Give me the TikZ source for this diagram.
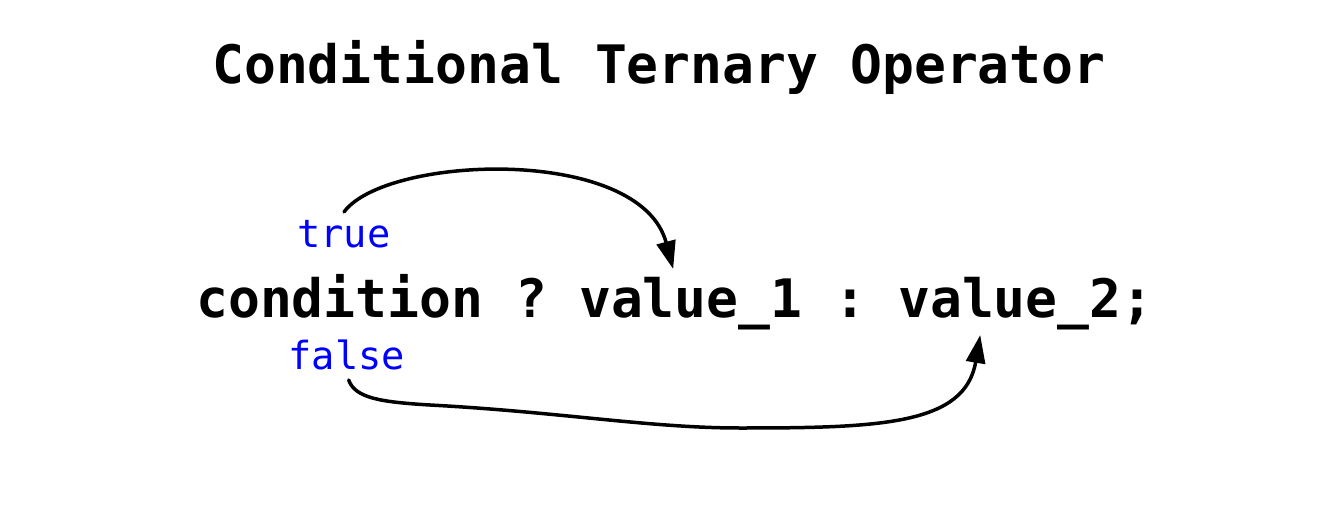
\documentclass[tikz,border=0pt]{standalone}
\usepackage{fontspec}
\setmonofont{DejaVu Sans Mono}
\usetikzlibrary{arrows.meta}
\definecolor{labelblue}{RGB}{0,0,255}
\begin{document}
\begin{tikzpicture}[x=1pt,y=-1pt,
  code/.style={inner sep=0pt,anchor=base west,font=\fontsize{53}{60}\selectfont\ttfamily\bfseries},
  branch/.style={inner sep=0pt,anchor=base,text=labelblue,font=\fontsize{38.7}{44}\selectfont\ttfamily},
  conn/.style={line width=3.5pt,line cap=round,line join=round,
    -{Triangle[length=28pt,width=19pt]}}]
\useasboundingbox[fill=white] (0,0) rectangle (1331,532);
% heading
\node[code] (title) at (212,84) {Conditional Ternary Operator};
% the expression, one monospace cell = 31.91pt
\node[code] (cond)  at (196,317)    {condition};
\node[code] (qm)    at (515.1,317)  {?};
\node[code] (v1)    at (578.9,317)  {value\_1};
\node[code] (colon) at (834.2,317)  {:};
\node[code] (v2)    at (898.0,317)  {value\_2;};
% branch labels
\node[branch] (tr) at (344,247) {true};
\node[branch] (fa) at (346.7,369) {false};
% true branch
\draw[conn] ([yshift=35pt]tr.base)
  .. controls +(42,-57) and +(-33,-124) .. ([xshift=-17.6pt,yshift=48pt]v1.base);
% false branch
\draw[conn] ([xshift=2pt,yshift=-11pt]fa.base)
  .. controls (355,398) and (380,402) .. (430,405)
  .. controls (560,412) and (650,428) .. (740,428)
  .. controls (880,428) and (965,425) .. ([xshift=-45.6pt,yshift=-18pt]v2.base);
\end{tikzpicture}
\end{document}
